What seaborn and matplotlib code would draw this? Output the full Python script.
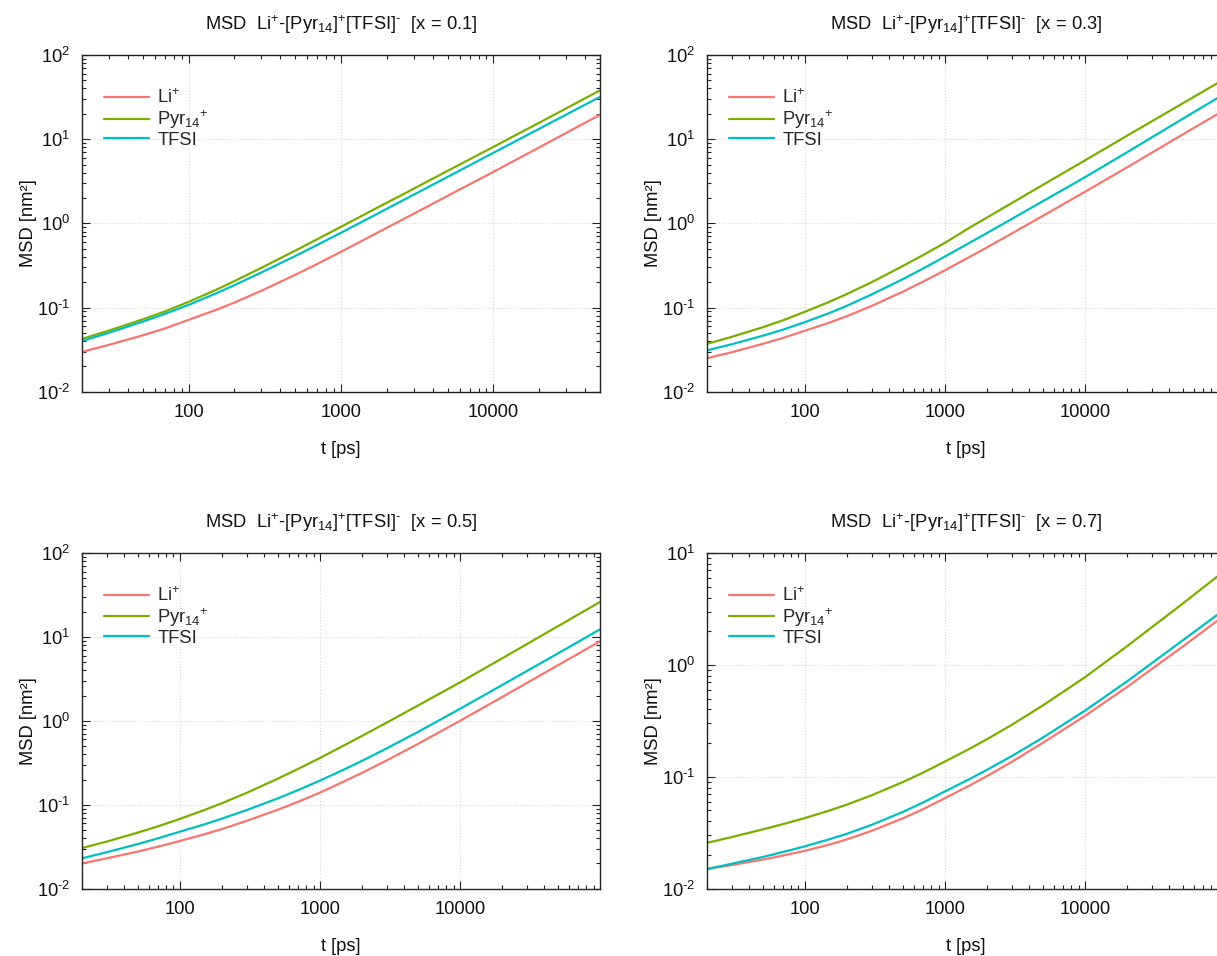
import math
import matplotlib
matplotlib.use("Agg")
import matplotlib.pyplot as plt
import seaborn as sns
import pandas as pd
from matplotlib.ticker import FixedLocator, LogLocator, NullFormatter

# time grid [ps]
t_50k = [20, 30, 50, 70, 100, 150, 200, 300, 500, 700, 1000, 1500, 2000, 3000,
         5000, 10000, 20000, 50000]
t_100k = t_50k + [100000]

# MSD [nm^2], x = 0.1
li_01 = [0.0297, 0.036, 0.0467, 0.0564, 0.0713, 0.0931, 0.1146, 0.158, 0.244, 0.33,
         0.459, 0.674, 0.887, 1.30, 2.12, 4.09, 8.0, 19.5]
pyr_01 = [0.0424, 0.0532, 0.0723, 0.0899, 0.1167, 0.161, 0.206, 0.296, 0.473, 0.649,
          0.91, 1.34, 1.76, 2.58, 4.2, 8.1, 15.7, 38.0]
tfsi_01 = [0.040, 0.0501, 0.0679, 0.0841, 0.1074, 0.146, 0.1845, 0.261, 0.408, 0.555,
           0.773, 1.135, 1.49, 2.19, 3.56, 6.89, 13.3, 31.8]

# MSD [nm^2], x = 0.3
li_03 = [0.025, 0.0294, 0.037, 0.0436, 0.053, 0.0662, 0.0791, 0.1045, 0.154, 0.203,
         0.277, 0.399, 0.519, 0.757, 1.225, 2.37, 4.63, 11.4, 22.4]
pyr_03 = [0.037, 0.0448, 0.0583, 0.0706, 0.089, 0.117, 0.145, 0.2, 0.311, 0.421,
          0.586, 0.889, 1.175, 1.74, 2.86, 5.6, 11.0, 26.7, 52.2]
tfsi_03 = [0.031, 0.0366, 0.0462, 0.0547, 0.067, 0.0861, 0.105, 0.143, 0.217, 0.291,
           0.403, 0.587, 0.769, 1.127, 1.83, 3.53, 7.0, 17.5, 34.8]

# MSD [nm^2], x = 0.5
li_05 = [0.020, 0.023, 0.0277, 0.0317, 0.037, 0.0446, 0.0514, 0.0643, 0.0873, 0.1086,
         0.1396, 0.191, 0.24, 0.338, 0.53, 1.0, 1.92, 4.59, 8.87]
pyr_05 = [0.0305, 0.0364, 0.0466, 0.0555, 0.0679, 0.0867, 0.1045, 0.1387, 0.2046, 0.268,
          0.361, 0.514, 0.662, 0.953, 1.52, 2.87, 5.55, 13.4, 26.1]
tfsi_05 = [0.023, 0.0272, 0.034, 0.0399, 0.0478, 0.0585, 0.0684, 0.0865, 0.119, 0.15,
           0.194, 0.265, 0.334, 0.47, 0.736, 1.39, 2.67, 6.35, 12.3]

# MSD [nm^2], x = 0.7
li_07 = [0.015, 0.01626, 0.0182, 0.0198, 0.0218, 0.0248, 0.0276, 0.0329, 0.0425, 0.0514,
         0.0644, 0.0836, 0.1016, 0.136, 0.201, 0.35, 0.635, 1.46, 2.79]
pyr_07 = [0.0257, 0.0289, 0.0339, 0.0378, 0.0428, 0.05, 0.0565, 0.0684, 0.0897, 0.109,
          0.137, 0.178, 0.217, 0.291, 0.434, 0.776, 1.47, 3.54, 6.98]
tfsi_07 = [0.015, 0.0167, 0.0192, 0.0213, 0.0239, 0.0277, 0.031, 0.0372, 0.0485, 0.059,
           0.074, 0.0955, 0.1155, 0.153, 0.224, 0.39, 0.713, 1.66, 3.15]

species = ["Li$^{+}$", "Pyr$_{14}$$^{+}$", "TFSI"]
colors = ["#F8766D", "#7CAE00", "#00BFC4"]
fractions = ["0.1", "0.3", "0.5", "0.7"]
xtick_vals = [100, 1000, 10000]
xtick_labels = ["100", "1000", "10000"]

panels = [
    (t_50k, [li_01, pyr_01, tfsi_01], (20, 50000), (1e-2, 1e2)),
    (t_100k, [li_03, pyr_03, tfsi_03], (20, 100000), (1e-2, 1e2)),
    (t_100k, [li_05, pyr_05, tfsi_05], (20, 100000), (1e-2, 1e2)),
    (t_100k, [li_07, pyr_07, tfsi_07], (20, 100000), (1e-2, 1e1)),
]

sns.set_theme(style="ticks")
plt.rcParams["font.family"] = ["Liberation Sans", "DejaVu Sans"]
plt.rcParams["mathtext.fontset"] = "custom"
plt.rcParams["mathtext.rm"] = "Liberation Sans"
plt.rcParams["mathtext.it"] = "Liberation Sans"
plt.rcParams["mathtext.default"] = "regular"


def decade_label(e):
    # short hyphen for negative exponents
    if e < 0:
        return "$10^{\\text{-}%d}$" % (-e)
    return "$10^{%d}$" % e


W, H = 1217, 956
fig = plt.figure(figsize=(W / 100, H / 100), dpi=100)

# axes boxes in pixels: left, top, width, height
boxes = [(82, 55, 518, 336.7), (707, 55, 518, 336.7),
         (82, 553, 518, 335.7), (707, 553, 518, 335.7)]

fs = 13.2
ink = "#111111"
for (t, series, xlim, ylim), frac, (px, py, pw, ph) in zip(panels, fractions, boxes):
    ax = fig.add_axes([px / W, 1 - (py + ph) / H, pw / W, ph / H])
    for vals, name, col in zip(series, species, colors):
        df = pd.DataFrame({"t": t, "msd": vals})
        sns.lineplot(data=df, x="t", y="msd", color=col, lw=1.6, label=name, ax=ax)
    ax.set_xscale("log")
    ax.set_yscale("log")
    ax.set_xlim(*xlim)
    ax.set_ylim(*ylim)

    ax.xaxis.set_major_locator(FixedLocator(xtick_vals))
    ax.set_xticklabels(xtick_labels)
    ax.xaxis.set_minor_locator(LogLocator(base=10, subs=range(2, 10), numticks=20))
    ax.xaxis.set_minor_formatter(NullFormatter())

    e0, e1 = int(round(math.log10(ylim[0]))), int(round(math.log10(ylim[1])))
    ax.yaxis.set_major_locator(FixedLocator([10.0 ** e for e in range(e0, e1 + 1)]))
    ax.set_yticklabels([decade_label(e) for e in range(e0, e1 + 1)])
    ax.yaxis.set_minor_locator(LogLocator(base=10, subs=range(2, 10), numticks=20))
    ax.yaxis.set_minor_formatter(NullFormatter())

    ax.tick_params(which="both", direction="in", top=True, right=True,
                   color="#222222", width=0.8, labelsize=fs, labelcolor=ink)
    ax.tick_params(which="major", length=5.5)
    ax.tick_params(which="minor", length=2.8)
    ax.tick_params(axis="x", which="major", pad=8.8)
    ax.tick_params(axis="y", which="major", pad=8.5)
    for s in ax.spines.values():
        s.set_color("#222222")
        s.set_linewidth(1.0)
    ax.grid(True, which="major", color="#cfcfcf", ls=(0, (1, 2)), lw=0.7)
    ax.set_axisbelow(True)

    ax.set_xlabel("t [ps]", fontsize=fs, labelpad=14.5, color=ink)
    ax.set_ylabel("MSD [nm²]", fontsize=fs, labelpad=0, color=ink)
    ax.set_title("MSD  Li$^{+}$-[Pyr$_{14}$]$^{+}$[TFSI]$^{\\text{-}}$  [x = " + frac + "]",
                 fontsize=fs, pad=18, color=ink)
    ax.legend(loc="upper left", bbox_to_anchor=(0.043, 0.90), frameon=False,
              fontsize=fs, handlelength=2.45, handletextpad=0.45,
              labelspacing=0.05, borderpad=0, borderaxespad=0)

fig.savefig("out.png", dpi=100)
